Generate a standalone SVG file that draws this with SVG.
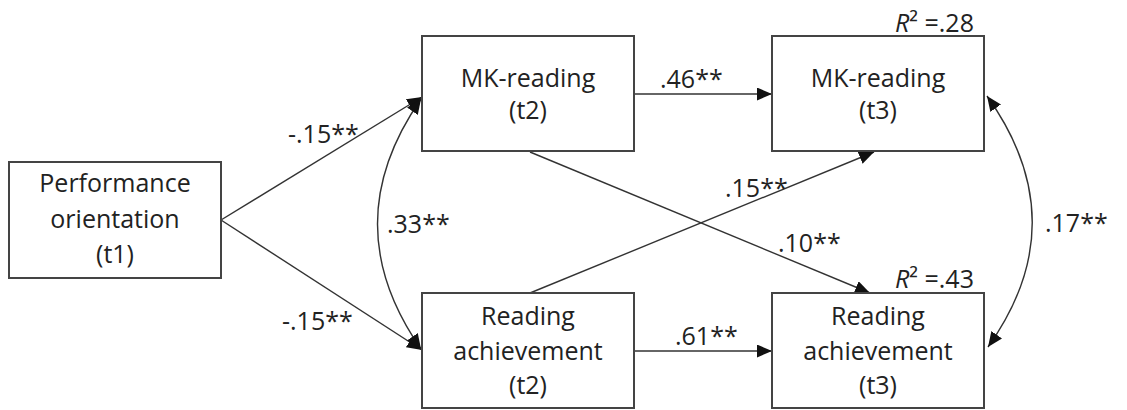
<svg xmlns="http://www.w3.org/2000/svg" width="1127" height="410" viewBox="0 0 1127 410">
<defs>
<style>
.box{fill:#fff;stroke:#444;stroke-width:2}
.t{font-family:"Open Sans","Liberation Sans",sans-serif;font-size:25px;fill:#222}
.c{text-anchor:middle}
.ln{fill:none;stroke:#333;stroke-width:1.4}
</style>
<marker id="ah" markerUnits="userSpaceOnUse" markerWidth="16" markerHeight="14" refX="15" refY="6.5" orient="auto-start-reverse" viewBox="0 0 16 14">
<path d="M0,0 L15,6.5 L0,13 z" fill="#111"/>
</marker>
</defs>
<rect width="1127" height="410" fill="#fff"/>
<g id="connectors">
<line class="ln" x1="221" y1="220" x2="422" y2="97" marker-end="url(#ah)"/>
<line class="ln" x1="221" y1="220" x2="422" y2="350" marker-end="url(#ah)"/>
<path class="ln" d="M421,99 Q334,224 421,349" marker-start="url(#ah)" marker-end="url(#ah)"/>
<line class="ln" x1="634" y1="94" x2="772" y2="94" marker-end="url(#ah)"/>
<line class="ln" x1="634" y1="351" x2="772" y2="351" marker-end="url(#ah)"/>
<line class="ln" x1="530" y1="152" x2="870" y2="293" marker-end="url(#ah)"/>
<line class="ln" x1="530" y1="293" x2="874" y2="152" marker-end="url(#ah)"/>
<path class="ln" d="M987,96 Q1077,222 988,347" marker-start="url(#ah)" marker-end="url(#ah)"/>
<text class="t" x="288" y="143">-.15**</text>
<text class="t" x="282" y="330">-.15**</text>
<text class="t" x="387" y="233">.33**</text>
<text class="t" x="660" y="88">.46**</text>
<text class="t" x="675" y="345">.61**</text>
<text class="t" x="725" y="197">.15**</text>
<text class="t" x="778" y="252">.10**</text>
<text class="t" x="1045" y="232">.17**</text>
<text class="t" x="895" y="32"><tspan font-style="italic">R</tspan>² =.28</text>
<text class="t" x="895" y="288"><tspan font-style="italic">R</tspan>² =.43</text>
</g>
<g id="perf">
<rect class="box" x="9" y="162" width="212" height="116"/>
<text class="t c" x="115" y="192">Performance</text>
<text class="t c" x="115" y="228">orientation</text>
<text class="t c" x="115" y="263">(t1)</text>
</g>
<g id="mk2">
<rect class="box" x="422" y="36" width="212" height="115"/>
<text class="t c" x="528" y="87">MK-reading</text>
<text class="t c" x="528" y="119">(t2)</text>
</g>
<g id="ra2">
<rect class="box" x="422" y="293" width="212" height="115"/>
<text class="t c" x="528" y="325">Reading</text>
<text class="t c" x="528" y="360">achievement</text>
<text class="t c" x="528" y="394">(t2)</text>
</g>
<g id="mk3">
<rect class="box" x="772" y="36" width="212" height="115"/>
<text class="t c" x="878" y="87">MK-reading</text>
<text class="t c" x="878" y="119">(t3)</text>
</g>
<g id="ra3">
<rect class="box" x="772" y="293" width="212" height="115"/>
<text class="t c" x="878" y="325">Reading</text>
<text class="t c" x="878" y="360">achievement</text>
<text class="t c" x="878" y="394">(t3)</text>
</g>
</svg>
